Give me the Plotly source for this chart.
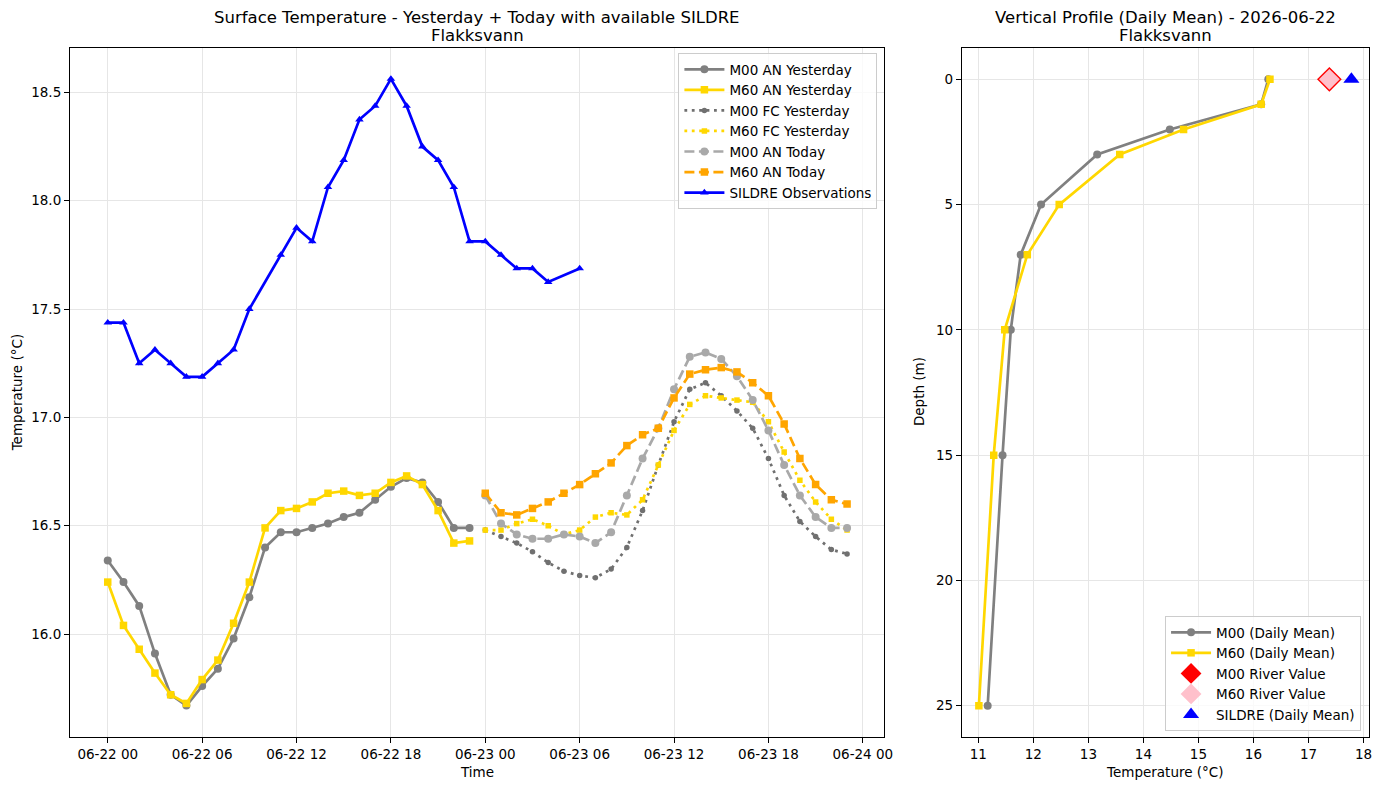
import pandas as pd
import plotly.graph_objects as go

# ---------------- data ----------------
start_day = "2026-06-22 00:00"
hours_yday = list(range(24))
hours_today = list(range(24, 48))

m00_an_yday = [16.34, 16.24, 16.13, 15.91, 15.72, 15.67, 15.76, 15.84, 15.98, 16.17, 16.40, 16.47,
               16.47, 16.49, 16.51, 16.54, 16.56, 16.62, 16.68, 16.72, 16.70, 16.61, 16.49, 16.49]
m60_an_yday = [16.24, 16.04, 15.93, 15.82, 15.72, 15.68, 15.79, 15.88, 16.05, 16.24, 16.49, 16.57,
               16.58, 16.61, 16.65, 16.66, 16.64, 16.65, 16.70, 16.73, 16.69, 16.57, 16.42, 16.43]
m00_fc_yday = [16.48, 16.45, 16.42, 16.38, 16.33, 16.29, 16.27, 16.26, 16.30, 16.40, 16.57, 16.78,
               16.98, 17.13, 17.16, 17.10, 17.03, 16.95, 16.81, 16.64, 16.52, 16.45, 16.39, 16.37]
m60_fc_yday = [16.48, 16.48, 16.51, 16.53, 16.50, 16.46, 16.48, 16.54, 16.56, 16.55, 16.62, 16.78,
               16.94, 17.06, 17.10, 17.09, 17.08, 17.07, 16.98, 16.84, 16.71, 16.61, 16.53, 16.48]
m00_an_today = [16.64, 16.51, 16.46, 16.44, 16.44, 16.46, 16.45, 16.42, 16.47, 16.64, 16.81, 16.95,
                17.13, 17.28, 17.30, 17.27, 17.19, 17.08, 16.94, 16.78, 16.64, 16.54, 16.49, 16.49]
m60_an_today = [16.65, 16.56, 16.55, 16.58, 16.61, 16.65, 16.69, 16.74, 16.79, 16.87, 16.92, 16.95,
                17.09, 17.20, 17.22, 17.23, 17.21, 17.16, 17.10, 16.97, 16.81, 16.69, 16.62, 16.60]

sildre_hours = [0, 1, 2, 3, 4, 5, 6, 7, 8, 9, 11, 12, 13, 14, 15, 16, 17, 18, 19, 20, 21, 22, 23,
                24, 25, 26, 27, 28, 30]
sildre_obs = [17.4375, 17.4375, 17.25, 17.3125, 17.25, 17.1875, 17.1875, 17.25, 17.3125, 17.5,
              17.75, 17.875, 17.8125, 18.0625, 18.1875, 18.375, 18.4375, 18.5625, 18.4375, 18.25,
              18.1875, 18.0625, 17.8125, 17.8125, 17.75, 17.6875, 17.6875, 17.625, 17.6875]

depths = [0, 1, 2, 3, 5, 7, 10, 15, 25]
m00_profile = [16.27, 16.14, 14.48, 13.16, 12.14, 11.77, 11.59, 11.44, 11.17]
m60_profile = [16.30, 16.14, 14.73, 13.57, 12.47, 11.89, 11.48, 11.28, 11.01]
m00_river = 17.38
m60_river = 17.38
sildre_mean = 17.78
river_depth = 0

time_ticks_h = [0, 6, 12, 18, 24, 30, 36, 42, 48]
temp_ticks = [16.0, 16.5, 17.0, 17.5, 18.0, 18.5]
depth_ticks = [0, 5, 10, 15, 20, 25]
prof_ticks = [11, 12, 13, 14, 15, 16, 17, 18]

# ---------------- helpers ----------------
t0 = pd.Timestamp(start_day)
def to_time(hours):
    return [t0 + pd.Timedelta(hours=h) for h in hours]

FONT = "DejaVu Sans"
GRID = "#e6e6e6"
fig = go.Figure()

def add_ts(x, y, name, color, dash, symbol, msize, width=2.7):
    fig.add_trace(go.Scatter(
        x=to_time(x), y=y, name=name, mode="lines+markers",
        line=dict(color=color, width=width, dash=dash),
        marker=dict(color=color, symbol=symbol, size=msize, line=dict(width=0)),
        xaxis="x", yaxis="y", legend="legend"))

add_ts(hours_yday, m00_an_yday, "M00 AN Yesterday", "#808080", "solid", "circle", 8)
add_ts(hours_yday, m60_an_yday, "M60 AN Yesterday", "#FFD700", "solid", "square", 7.5)
add_ts(hours_today, m00_fc_yday, "M00 FC Yesterday", "#707070", "2.8px,4.6px", "circle", 5.5)
add_ts(hours_today, m60_fc_yday, "M60 FC Yesterday", "#FFD700", "2.8px,4.6px", "square", 5.5)
add_ts(hours_today, m00_an_today, "M00 AN Today", "#A9A9A9", "10px,4.5px", "circle", 8)
add_ts(hours_today, m60_an_today, "M60 AN Today", "#FFA500", "10px,4.5px", "square", 7.5)
add_ts(sildre_hours, sildre_obs, "SILDRE Observations", "#0000FF", "solid", "triangle-up", 7.5)

# profile
fig.add_trace(go.Scatter(x=m00_profile, y=depths, name="M00 (Daily Mean)", mode="lines+markers",
                         line=dict(color="#808080", width=2.7),
                         marker=dict(color="#808080", symbol="circle", size=8),
                         xaxis="x2", yaxis="y2", legend="legend2"))
fig.add_trace(go.Scatter(x=m60_profile, y=depths, name="M60 (Daily Mean)", mode="lines+markers",
                         line=dict(color="#FFD700", width=2.7),
                         marker=dict(color="#FFD700", symbol="square", size=7.5),
                         xaxis="x2", yaxis="y2", legend="legend2"))
fig.add_trace(go.Scatter(x=[m00_river], y=[river_depth], name="M00 River Value", mode="markers",
                         marker=dict(color="#FF0000", symbol="diamond", size=19, line=dict(width=0)),
                         xaxis="x2", yaxis="y2", legend="legend2"))
fig.add_trace(go.Scatter(x=[m60_river], y=[river_depth], name="M60 River Value", mode="markers",
                         marker=dict(color="#FFC0CB", symbol="diamond", size=16, line=dict(width=0)),
                         xaxis="x2", yaxis="y2", legend="legend2"))
fig.add_trace(go.Scatter(x=[sildre_mean], y=[river_depth], name="SILDRE (Daily Mean)", mode="markers",
                         marker=dict(color="#0000FF", symbol="triangle-up", size=14, line=dict(width=0)),
                         xaxis="x2", yaxis="y2", legend="legend2"))

# ---------------- layout ----------------
L, R, T, B = 70, 10, 48, 53
W, H = 1388, 790
PW, PH = W - L - R, H - T - B
def px(xp):
    return (xp - L) / PW
def py(yp):
    return 1 - (yp - T) / PH

axis_common = dict(showline=True, mirror=True, linecolor="black", linewidth=1.1,
                   ticks="outside", ticklen=5, tickwidth=1.1, tickcolor="black",
                   showgrid=True, gridcolor=GRID, gridwidth=1, zeroline=False,
                   tickfont=dict(family=FONT, size=13.5, color="black"))

fig.update_layout(
    width=W, height=H, autosize=False,
    margin=dict(l=L, r=R, t=T, b=B),
    paper_bgcolor="white", plot_bgcolor="white",
    font=dict(family=FONT, size=13.5, color="black"),
    xaxis=dict(domain=[0, px(890)], type="date", anchor="y",
               range=[t0 + pd.Timedelta(hours=-2.4), t0 + pd.Timedelta(hours=49.37)],
               tickvals=to_time(time_ticks_h), tickformat="%m-%d %H", **axis_common),
    yaxis=dict(domain=[0, 1], anchor="x", range=[15.525, 18.705], tickvals=temp_ticks,
               tickformat=".1f", **axis_common),
    xaxis2=dict(domain=[px(968), 1], anchor="y2", range=[10.70, 18.10], tickvals=prof_ticks,
                **axis_common),
    yaxis2=dict(domain=[0, 1], anchor="x2", range=[26.25, -1.25], tickvals=depth_ticks,
                **axis_common),
    legend=dict(x=px(883), y=py(53), xanchor="right", yanchor="top",
                bgcolor="rgba(255,255,255,0.8)", bordercolor="#cccccc", borderwidth=1,
                font=dict(family=FONT, size=13.5), itemwidth=40),
    legend2=dict(x=px(1370), y=py(731), xanchor="right", yanchor="bottom",
                 bgcolor="rgba(255,255,255,0.8)", bordercolor="#cccccc", borderwidth=1,
                 font=dict(family=FONT, size=13.5), itemwidth=40),
    showlegend=True,
)

ann = []
def text_at(x, y, text, size, angle=0):
    ann.append(dict(x=px(x), y=py(y), xref="paper", yref="paper", text=text, showarrow=False,
                    xanchor="center", yanchor="middle", textangle=angle,
                    font=dict(family=FONT, size=size, color="black")))

text_at(480, 18, "Surface Temperature - Yesterday + Today with available SILDRE", 16.5)
text_at(480, 35, "Flakksvann", 16.5)
text_at(1173, 18, "Vertical Profile (Daily Mean) - 2026-06-22", 16.5)
text_at(1173, 35, "Flakksvann", 16.5)
text_at(480, 772, "Time", 13.5)
text_at(1173, 772, "Temperature (°C)", 13.5)
text_at(17, 392, "Temperature (°C)", 13.5, -90)
text_at(925, 392, "Depth (m)", 13.5, -90)
fig.update_layout(annotations=ann)

fig.write_html("out.html")
